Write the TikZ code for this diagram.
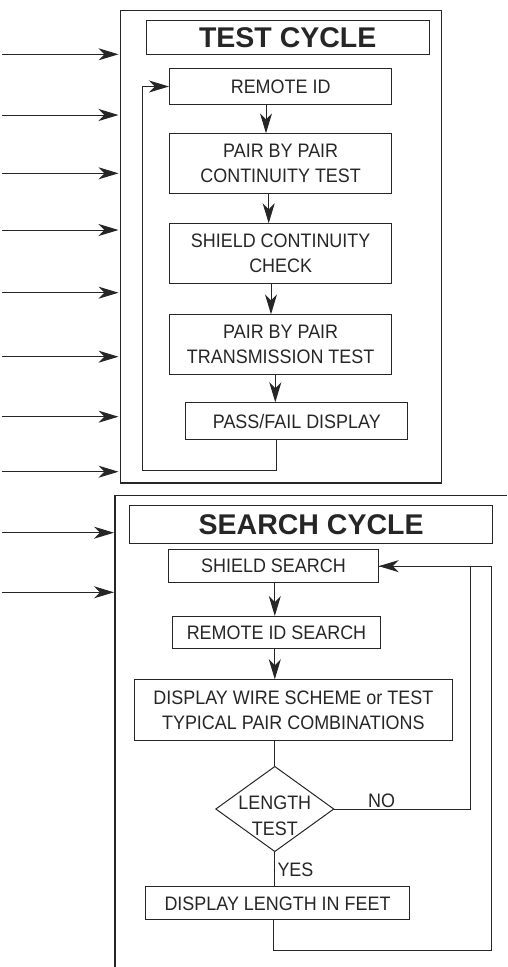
\documentclass[tikz,border=0pt]{standalone}
\usepackage{fontspec}
\setmainfont{Liberation Sans}
\newfontfamily\bodyfont[FakeStretch=0.92]{Liberation Sans}
\usetikzlibrary{arrows.meta,shapes.geometric}
\definecolor{ink}{HTML}{262626}
\begin{document}
\begin{tikzpicture}[x=1pt,y=-1pt, line width=1pt, draw=ink, text=ink,
  box/.style={draw, anchor=north west, inner sep=0pt, align=center, font=\bodyfont\fontsize{19.5}{25}\selectfont},
  ttl/.style={draw, anchor=north west, inner sep=0pt, font=\fontsize{28.5}{30}\selectfont\bfseries},
  lbl/.style={inner sep=0pt, font=\bodyfont\fontsize{19.5}{25}\selectfont},
  arr/.style={-{Stealth[length=20pt,width=12pt,inset=6pt]}},
  frame/.style={line width=1.4pt}
]
\useasboundingbox (0,0) rectangle (507,967);

% ---------------- TEST CYCLE ----------------
\node[draw, frame, anchor=north west, minimum width=321.2pt, minimum height=472.8pt] (tc) at (119.5,9.5) {};
\node[ttl, minimum width=283pt, minimum height=34pt] (tt) at (145.7,20) {TEST CYCLE};
\node[box, minimum width=222.3pt, minimum height=36.6pt] (rid) at (169,67.7) {REMOTE ID};
\node[box, minimum width=222.3pt, minimum height=59.7pt] (pbp) at (169,133.3) {PAIR BY PAIR\\CONTINUITY TEST};
\node[box, minimum width=222.3pt, minimum height=59.4pt] (scc) at (169,223.3) {SHIELD CONTINUITY\\CHECK};
\node[box, minimum width=222.3pt, minimum height=59.7pt] (tr) at (169,314.3) {PAIR BY PAIR\\TRANSMISSION TEST};
\node[box, minimum width=222pt, minimum height=37pt] (pf) at (185.3,402.3) {PASS/FAIL DISPLAY};

\coordinate (c1) at (266,0);
\coordinate (c2) at (268.7,0);
\coordinate (c3) at (271,0);
\coordinate (c4) at (275.3,0);
\coordinate (c5) at (276.3,0);
\draw[arr] (rid.south -| c1) -- (pbp.north -| c1);
\draw[arr] (pbp.south -| c2) -- (scc.north -| c2);
\draw[arr] (scc.south -| c3) -- (tr.north -| c3);
\draw[arr] (tr.south -| c4) -- (pf.north -| c4);

\coordinate (lp) at (142.7,470.7);
\draw[arr] (pf.south -| c5) |- (lp) |- (rid.west);

% left input arrows
\foreach \i/\yy in {1/54.3,2/115,3/173.3,4/230,5/292.7,6/356.7,7/416.7,8/471.7}{
  \coordinate (in\i) at (1.7,\yy);
  \draw[arr] (in\i) -- ([xshift=-1pt]in\i -| tc.west);
}

% ---------------- SEARCH CYCLE ----------------
\coordinate (scTR) at (507,495.3);
\coordinate (scTL) at (115,495.3);
\coordinate (scBL) at (115,967);
\draw[frame] (scTR) -- (scTL) -- (scBL);

\node[ttl, minimum width=363.3pt, minimum height=38.3pt] (st) at (129,505) {SEARCH CYCLE};
\node[box, minimum width=209.4pt, minimum height=32.7pt] (ss) at (168.3,549.3) {SHIELD SEARCH};
\node[box, minimum width=208.6pt, minimum height=32pt] (rs) at (171.7,616) {REMOTE ID SEARCH};
\node[box, minimum width=318.3pt, minimum height=60.4pt] (dw) at (133.7,679.3) {DISPLAY WIRE SCHEME or TEST\\TYPICAL PAIR COMBINATIONS};
\node[diamond, draw, minimum width=118.3pt, minimum height=85.4pt, inner sep=0pt] (dia) at (274.8,809) {};
\node[lbl, align=center, font=\bodyfont\fontsize{19.5}{26}\selectfont] (diat) at (274.8,815.5) {LENGTH\\TEST};
\node[box, minimum width=263.4pt, minimum height=33pt] (dl) at (145.3,886.3) {DISPLAY LENGTH IN FEET};

\foreach \i/\yy in {1/532.7,2/592.3}{
  \coordinate (sin\i) at (1.7,\yy);
  \draw[arr] (sin\i) -- ([xshift=-1pt]sin\i -| scTL);
}

\draw[arr] (ss.south -| dia.north) -- (rs.north -| dia.north);
\draw[arr] (rs.south -| dia.north) -- (dw.north -| dia.north);
\draw (dia.north |- dw.south) -- (dia.north);
\draw (dia.south) -- (dia.south |- dl.north);

\coordinate (no1) at (470,809);
\coordinate (r2) at (491,950.7);
\draw[arr] (dia.east) -| (no1 |- ss.east) -- (ss.east);
\draw ([xshift=-3.7pt]dl.south) |- (r2) |- (ss.east);

\node[lbl, anchor=base west] (nolbl) at (367.7,807.3) {NO};
\node[lbl, anchor=base west] (yeslbl) at (277,876.5) {YES};
\end{tikzpicture}
\end{document}
